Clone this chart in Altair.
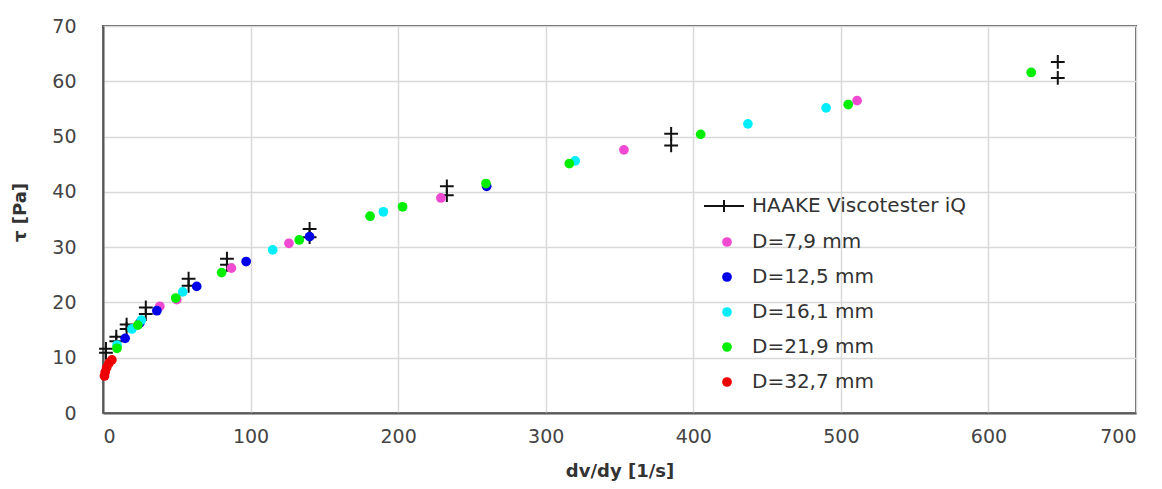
import altair as alt
import pandas as pd

# HAAKE Viscotester iQ reference measurements (pairs of readings)
haake_x = [2, 2, 9, 9, 16, 16, 29, 29, 58, 58, 84, 84, 140, 140, 233, 233, 385, 385, 647, 647]
haake_y = [10.9, 11.6, 13.0, 13.8, 15.2, 16.0, 17.9, 19.1, 23.0, 24.3, 26.8, 27.9, 31.8, 33.3, 39.4, 41.0, 48.4, 50.5, 60.6, 63.5]

# Capillary measurements, one list pair per diameter
d79_x = [38.5, 50, 87, 126, 229, 353, 511]
d79_y = [19.3, 20.5, 26.2, 30.7, 38.9, 47.6, 56.5]

d125_x = [15, 25, 36.5, 63.5, 97, 140, 260]
d125_y = [13.5, 16.3, 18.5, 22.9, 27.4, 31.9, 41.0]

d161_x = [9.5, 19.6, 26, 54, 115, 190, 320, 437, 490]
d161_y = [12.3, 15.2, 16.8, 21.9, 29.5, 36.4, 45.6, 52.3, 55.2]

d219_x = [9.5, 23.6, 49.3, 80.4, 133, 181, 203, 259.5, 316, 405, 505, 629]
d219_y = [11.7, 15.9, 20.8, 25.4, 31.3, 35.6, 37.3, 41.5, 45.1, 50.4, 55.8, 61.6]

d327_x = [1, 1.5, 2.5, 4, 6]
d327_y = [6.7, 7.4, 8.2, 9.0, 9.6]

series_names = ["D=7,9 mm", "D=12,5 mm", "D=16,1 mm", "D=21,9 mm", "D=32,7 mm"]
series_colors = ["#f04ad2", "#0000e8", "#00eefc", "#00ee00", "#ee0000"]
haake_name = "HAAKE Viscotester iQ"

x_ticks = [0, 100, 200, 300, 400, 500, 600, 700]
y_ticks = [0, 10, 20, 30, 40, 50, 60, 70]

df_h = pd.DataFrame({"x": haake_x, "y": haake_y, "series": [haake_name] * len(haake_x)})

rows = []
for name, xs, ys in zip(series_names,
                        [d79_x, d125_x, d161_x, d219_x, d327_x],
                        [d79_y, d125_y, d161_y, d219_y, d327_y]):
    for a, b in zip(xs, ys):
        rows.append({"x": a, "y": b, "series": name})
df_d = pd.DataFrame(rows)

x_scale = alt.Scale(domain=[0, 700], nice=False)
y_scale = alt.Scale(domain=[0, 70], nice=False)

FONT = "DejaVu Sans"

x_axis = alt.Axis(values=x_ticks, title="dv/dy [1/s]", titleY=58, titleBaseline="middle",
                  labelPadding=14)
y_axis = alt.Axis(values=y_ticks, title="τ [Pa]", titleX=-83, titleY=186,
                  titleAngle=-90, titleAlign="center", titleBaseline="middle",
                  labelPadding=27)

plus_path = "M-1,0H1M0,-1V1"
legend_plus = "M-1,0H1M0,-0.3V0.3"

haake = alt.Chart(df_h).mark_point(
    shape=plus_path, size=190, strokeWidth=2, color="#111111", filled=False
).encode(
    x=alt.X("x:Q", scale=x_scale, axis=x_axis),
    y=alt.Y("y:Q", scale=y_scale, axis=y_axis),
    opacity=alt.Opacity(
        "series:O",
        scale=alt.Scale(domain=[haake_name], range=[1]),
        legend=alt.Legend(
            title=None, orient="none", legendX=600, legendY=159,
            symbolType=legend_plus, symbolSize=1600, symbolStrokeColor="#111111",
            symbolFillColor="transparent", symbolStrokeWidth=2,
            labelFontSize=20, labelFont=FONT, labelColor="#333333", labelOffset=7,
            labelLimit=400,
        ),
    ),
)

dots = alt.Chart(df_d).mark_circle(size=95, opacity=1).encode(
    x=alt.X("x:Q", scale=x_scale),
    y=alt.Y("y:Q", scale=y_scale),
    color=alt.Color(
        "series:N",
        scale=alt.Scale(domain=series_names, range=series_colors),
        legend=alt.Legend(
            title=None, orient="none", legendX=614, legendY=206,
            symbolType="circle", symbolSize=95, symbolOpacity=1,
            labelFontSize=20, labelFont=FONT, labelColor="#333333",
            labelOffset=15, rowPadding=15, labelLimit=400,
        ),
    ),
)

chart = alt.layer(haake, dots).resolve_legend(color="independent", opacity="independent").properties(
    width=1033, height=387,
    autosize=alt.AutoSizeParams(type="none"),
    padding={"left": 95, "top": 18, "right": 18, "bottom": 68},
).configure_view(
    stroke="#595959", strokeWidth=2
).configure_axis(
    grid=True, gridColor="#d9d9d9", gridWidth=1.5,
    domainColor="#595959", domainWidth=2,
    ticks=False,
    labelFont=FONT, labelFontSize=19, labelColor="#444444",
    titleFont=FONT, titleFontSize=18, titleFontWeight="bold", titleColor="#333333",
)

chart.save("out.html", embed_options={"renderer": "svg", "actions": False})
